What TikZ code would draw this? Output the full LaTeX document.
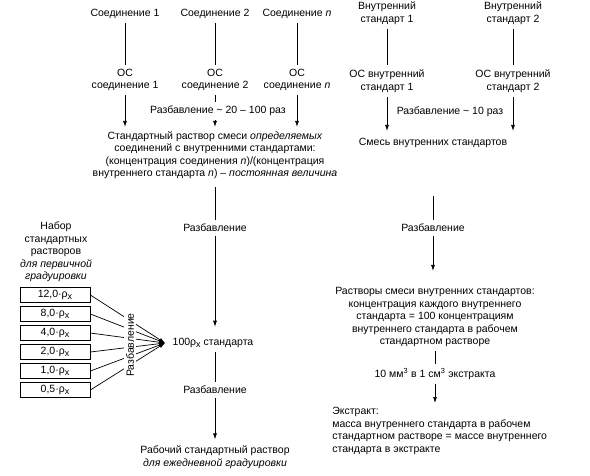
\documentclass[tikz,border=0pt]{standalone}
\usepackage{fontspec}
\setmainfont{Liberation Sans}
\usetikzlibrary{arrows.meta}
\newcommand{\subx}{\raisebox{-0.45ex}{\small x}}

\begin{document}
\begin{tikzpicture}[x=1pt,y=-1pt,font=\fontsize{10.5}{12.5}\selectfont,
  every node/.style={inner sep=4pt,align=center},
  every path/.style={line width=0.7pt},
  arr/.style={-{Latex[length=6pt,width=4pt]}},
  conc/.style={draw,minimum width=70pt,minimum height=15pt,inner sep=1pt}]
\useasboundingbox (0,0) rectangle (590,475);

% compounds
\node (c1) at (125,14) {Соединение 1};
\node (c2) at (215,14) {Соединение 2};
\node (c3) at (297,14) {Соединение \textit{n}};
\node (oc1) at (125,80) {ОС\\соединение 1};
\node (oc2) at (215,80) {ОС\\соединение 2};
\node (oc3) at (297,80) {ОС\\соединение \textit{n}};
\node (dil1) at (218,111) {Разбавление \textasciitilde{} 20 – 100 раз};
\node (mix) at (215,155) {Стандартный раствор смеси \textit{определяемых}\\соединений с внутренними стандартами:\\(концентрация соединения \textit{n})/(концентрация\\внутреннего стандарта \textit{n}) – \textit{постоянная величина}};
\draw (c1) -- (oc1); \draw (c2) -- (oc2); \draw (c3) -- (oc3);
\draw[arr] (oc1) -- (oc1 |- mix.north);
\draw (oc2) -- (oc2 |- dil1.north); \draw[arr] (oc2 |- dil1.south) -- (oc2 |- mix.north);
\draw[arr] (oc3) -- (oc3 |- mix.north);

% internal standards
\node (is1) at (387,13) {Внутренний\\стандарт 1};
\node (is2) at (513,13) {Внутренний\\стандарт 2};
\node (ocis1) at (387,81) {ОС внутренний\\стандарт 1};
\node (ocis2) at (513,81) {ОС внутренний\\стандарт 2};
\node (dil2) at (450,112) {Разбавление \textasciitilde{} 10 раз};
\node (ismix) at (433,143) {Смесь внутренних стандартов};
\draw (is1) -- (ocis1); \draw (is2) -- (ocis2);
\draw[arr,shorten >=3pt] (ocis1) -- (ocis1 |- ismix.north);
\draw[arr,shorten >=3pt] (ocis2) -- (ocis2 |- ismix.north);

% middle column
\node (dil3) at (215,228) {Разбавление};
\node (std100) at (213,343) {100ρ\subx{} стандарта};
\node (dil4) at (215,390) {Разбавление};
\node (work) at (215,457) {Рабочий стандартный раствор\\\textit{для ежедневной градуировки}};
\draw[shorten <=4pt] (mix.south -| dil3) -- (dil3);
\draw[arr,shorten >=7pt] (dil3) -- (dil3 |- std100.north);
\draw (dil3 |- std100.south) -- (dil4);
\draw[arr,shorten >=2pt] (dil4) -- (work);

% calibration set
\node (set) at (56,252) {Набор\\стандартных\\растворов\\\textit{для первичной}\\\textit{градуировки}};
\foreach \v [count=\i] in {{12,0},{8,0},{4,0},{2,0},{1,0},{0,5}}
  \node[conc] (b\i) at (55,{295+19*(\i-1)}) {\v·ρ\subx};
\coordinate (fan) at (165,343);
\foreach \i in {1,...,6} \draw[arr] (b\i.east) -- (fan);
\node[rotate=90,fill=white,inner sep=2pt] (dilfan) at (130,345) {Разбавление}; % over the fan

% right column
\node (dil5) at (433,228) {Разбавление};
\node (sol) at (435,317) {Растворы смеси внутренних стандартов:\\концентрация каждого внутреннего\\стандарта = 100 концентрациям\\внутреннего стандарта в рабочем\\стандартном растворе};
\node (tenmm) at (435,374) {10 мм\textsuperscript{3} в 1 см\textsuperscript{3} экстракта};
\node[anchor=north west,align=left] (extr) at (328,403) {Экстракт:\\масса внутреннего стандарта в рабочем\\стандартном растворе = массе внутреннего\\стандарта в экстракте};
\draw[shorten <=44pt] (ismix) -- (dil5);
\draw[arr,shorten >=12pt] (dil5) -- (dil5 |- sol.north);
\draw (sol.south -| tenmm) -- (tenmm);
\draw[arr] (tenmm) -- (tenmm |- extr.north);
\end{tikzpicture}
\end{document}
